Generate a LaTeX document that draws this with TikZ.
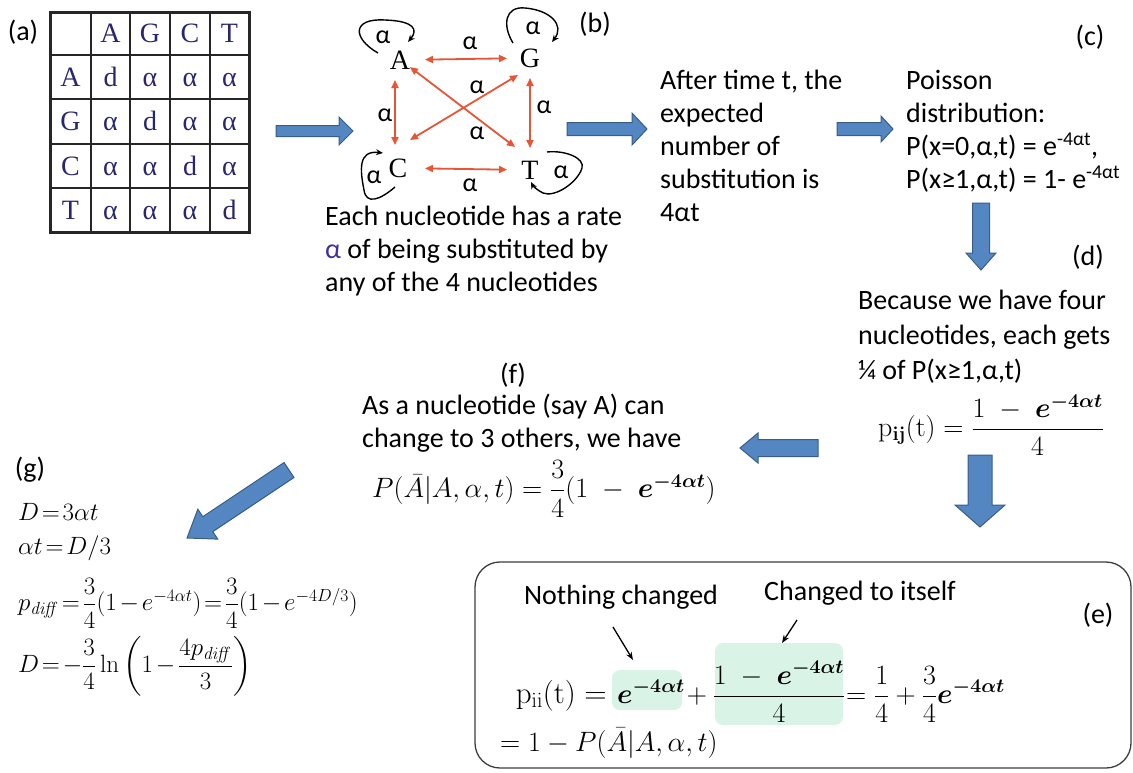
\RequirePackage{fix-cm}
\documentclass[tikz,border=0pt]{standalone}
\usepackage{amsmath}
\usepackage{bm}
\usepackage[no-math]{fontspec}
\setmainfont{Carlito}
\newfontfamily\timesfont{Liberation Serif}
\usetikzlibrary{arrows.meta,calc}
\definecolor{redarr}{RGB}{232,84,52}
\definecolor{bluefill}{RGB}{84,134,194}
\definecolor{blueline}{RGB}{56,93,138}
\definecolor{navy}{RGB}{40,38,110}
\definecolor{mint}{RGB}{218,243,231}
\definecolor{alphablue}{RGB}{60,50,160}
\definecolor{boxgray}{RGB}{60,60,60}
\newcommand{\tightm}{\thickmuskip=2mu\relax\medmuskip=2mu\relax}
\tikzset{
  txt/.style={font=\fontsize{28}{33}\selectfont, inner sep=0pt, align=left, anchor=north west},
  lbl/.style={font=\fontsize{28}{33}\selectfont, inner sep=0pt},
  mth/.style={font=\fontsize{28}{33}\selectfont, inner sep=0pt},
  gmth/.style={font=\fontsize{25}{28}\selectfont, inner sep=0pt, anchor=west},
  tbl/.style={font=\timesfont\fontsize{28}{30}\selectfont, text=navy, inner sep=0pt, anchor=base},
  nuc/.style={font=\timesfont\fontsize{28}{30}\selectfont, inner sep=1pt},
  gal/.style={font=\fontsize{26}{28}\selectfont, inner sep=0pt},
  rarr/.style={draw=redarr, line width=1.8pt, {Triangle[length=8pt,width=7pt]}-{Triangle[length=8pt,width=7pt]}},
  selfloop/.style={draw=black, line width=1.4pt, -{Stealth[length=7pt,width=6pt]}},
  bluearrow/.style={fill=bluefill, draw=blueline, line width=1pt},
  tblthin/.style={line width=1.5pt, draw=black!85},
  tblthick/.style={line width=3pt, draw=black!85},
  thinarr/.style={draw=black, line width=1.3pt, -{Stealth[length=8pt,width=6pt]}},
  hilite/.style={fill=mint, rounded corners=8pt},
}
\newcommand{\blockarr}[5]{%
  \coordinate (bb) at ($(#2)!#5!(#1)$);
  \filldraw[bluearrow] ($(#1)!#3!90:(#2)$) -- ($(bb)!#3!-90:(#1)$) -- ($(bb)!#4!-90:(#1)$) -- (#2) -- ($(bb)!#4!90:(#1)$) -- ($(bb)!#3!90:(#1)$) -- ($(#1)!#3!-90:(#2)$) -- cycle;}
\begin{document}
\begin{tikzpicture}[x=1pt,y=-1pt]
\useasboundingbox (0,0) rectangle (1133,772);
% ---------- (a) table
\node[lbl] (la) at (23,32) {(a)};
\foreach \x in {91,130,170,210} \draw[tblthin] (\x,12) -- (\x,232);
\foreach \y in {55,99,144,188} \draw[tblthin] (50,\y) -- (249,\y);
\draw[tblthick] (50,12) rectangle (249,232);
\foreach \cx/\l [count=\i] in {110.5/A,150/G,190/C,229.5/T}
  \node[tbl] (hc\i) at (\cx,42.5) {\l};
\foreach \cy/\l [count=\i] in {86/A,130.5/G,175/C,219/T}
  \node[tbl] (hr\i) at (70.5,\cy) {\l};
\foreach \cy [count=\r] in {86,130.5,175,219}
  \foreach \cx [count=\c] in {110.5,150,190,229.5}
    \node[tbl] (m\r\c) at (\cx,\cy) {\ifnum\r=\c d\else α\fi};
% ---------- block arrows
\coordinate (a1t) at (276,131); \coordinate (a1p) at (353,131);
\coordinate (a2t) at (567,129); \coordinate (a2p) at (647,129);
\coordinate (a3t) at (837,129); \coordinate (a3p) at (893,129);
\coordinate (a4t) at (981,203); \coordinate (a4p) at (981,270);
\coordinate (a5t) at (980,455); \coordinate (a5p) at (980,527);
\coordinate (a6t) at (818,448); \coordinate (a6p) at (740,448);
\coordinate (a7t) at (289,470); \coordinate (a7p) at (187,538);
\blockarr{a1t}{a1p}{5.5pt}{14pt}{14pt}
\blockarr{a2t}{a2p}{6.5pt}{16pt}{15pt}
\blockarr{a3t}{a3p}{6.5pt}{13pt}{12pt}
\blockarr{a4t}{a4p}{8.5pt}{15pt}{17pt}
\blockarr{a5t}{a5p}{12pt}{25pt}{22pt}
\blockarr{a6t}{a6p}{8.5pt}{15pt}{18pt}
\blockarr{a7t}{a7p}{9pt}{18pt}{25pt}
% ---------- (b) graph
\node[lbl] (lb) at (595,24) {(b)};
\node[nuc] (A) at (400,60) {A};
\node[nuc] (G) at (530,58) {G};
\node[nuc] (C) at (398,168) {C};
\node[nuc] (T) at (530,170) {T};
\draw[rarr, shorten <=25pt, shorten >=23pt] (A.center) -- (G.center);
\draw[rarr, shorten <=27pt, shorten >=23pt] (C.center) -- (T.center);
\draw[rarr, shorten <=20pt, shorten >=23pt] ([xshift=-5pt]A.center) -- ([xshift=-3pt]C.center);
\draw[rarr, shorten <=20pt, shorten >=22pt] (G.center) -- (T.center);
\draw[rarr] ([shift={(10,7)}]A.center) -- ([shift={(-15,-23)}]T.center);
\draw[rarr] ([shift={(12,-28)}]C.center) -- ([shift={(-12,17)}]G.center);
\node[gal] (al1) at (470,43) {α};
\node[gal] (al2) at (385,115) {α};
\node[gal] (al3) at (544,107) {α};
\node[gal] (al4) at (477,87) {α};
\node[gal] (al5) at (477,133) {α};
\node[gal] (al6) at (470,185) {α};
\node[gal] (la1) at (383,37) {α};
\node[gal] (la2) at (533,28) {α};
\node[gal] (la3) at (374,177) {α};
\node[gal] (la4) at (561,172) {α};
\draw[selfloop] (378,53) .. controls (352,38) and (352,18) .. (385,20) .. controls (415,21) and (418,30) .. (408,42);
\draw[selfloop] (513,43) .. controls (502,25) and (505,6) .. (525,8) .. controls (550,10) and (565,25) .. (552,42);
\draw[selfloop] (395,187) .. controls (380,200) and (366,205) .. (364,190) .. controls (360,170) and (358,150) .. (383,153);
\draw[selfloop] (547,152) .. controls (565,150) and (585,158) .. (582,168) .. controls (578,182) and (555,198) .. (543,193) .. controls (537,190) and (533,186) .. (531,182);
\node[txt] (capb) at (325,206) {Each nucleotide has a rate\\{\color{alphablue}α} of being substituted by\\any of the 4 nucleotides};
% ---------- expected number
\node[txt] (tex) at (660,70) {After time t, the\\expected\\number of\\substitution is\\4αt};
% ---------- (c)
\node[lbl] (lc) at (1090,37) {(c)};
\node[txt] (tpo) at (906,70) {Poisson\\distribution:\\P(x=0,α,t) = e\textsuperscript{-4αt},\\P(x≥1,α,t) = 1- e\textsuperscript{-4αt}};
% ---------- (d)
\node[lbl] (ld) at (1088,257) {(d)};
\node[txt, font=\fontsize{28}{35}\selectfont] (tfour) at (858,290) {Because we have four\\nucleotides, each gets\\¼ of P(x≥1,α,t)};
\node[mth, anchor=west] (pij) at (878,425) {$\mathrm{p}_{\mathbf{ij}}(\mathrm{t}) = \dfrac{1\;-\;\bm{e}^{\bm{-4\alpha t}}}{4}$};
% ---------- (f)
\node[lbl] (lf) at (513,375) {(f)};
\node[txt] (tf) at (362,394) {As a nucleotide (say A) can\\change to 3 others, we have};
\node[mth, anchor=west] (pf) at (372,489) {$P(\bar{A}|A,\alpha,t) = \dfrac{3}{4}(1\;-\;\bm{e}^{\bm{-4\alpha t}})$};
% ---------- (g)
\node[lbl] (lg) at (30,470) {(g)};
\node[gmth] (g1) at (18,512) {$\tightm D=3\alpha t$};
\node[gmth] (g2) at (18,548) {$\tightm \alpha t=D/3$};
\node[gmth] (g3) at (18,603) {$\tightm p_{\mathit{diff}}=\dfrac{3}{4}(1-e^{-4\alpha t})=\dfrac{3}{4}(1-e^{-4D/3})$};
\node[gmth] (g4) at (18,666) {$\tightm D=-\dfrac{3}{4}\ln\left(1-\dfrac{4p_{\mathit{diff}}}{3}\right)$};
% ---------- (e)
\draw[rounded corners=25pt, line width=1.3pt, draw=boxgray] (475,562) rectangle (1131,768);
\node[lbl] (le) at (1098,615) {(e)};
\fill[hilite] (612,670) rectangle (682,710);
\fill[hilite] (715,643) rectangle (843,725);
\node[lbl] (nch) at (621,597) {Nothing changed};
\node[lbl] (cts) at (860,593) {Changed to itself};
\node[mth, anchor=base east, font=\fontsize{31}{33}\selectfont] (pii) at (607,703) {$\mathrm{p}_{\mathrm{ii}}(\mathrm{t}) =$};
\node[mth, anchor=base west] (e1) at (617,703) {$\bm{e}^{\bm{-4\alpha t}}$};
\node[mth, anchor=base] (pl1) at (697,703) {$+$};
\node[mth, anchor=base] (fr1) at (779,703) {$\dfrac{1\;-\;\bm{e}^{\bm{-4\alpha t}}}{4}$};
\node[mth, anchor=base west] (eq2) at (846,703) {$=\dfrac{1}{4}+\dfrac{3}{4}\bm{e}^{\bm{-4\alpha t}}$};
\node[mth, anchor=base west] (pii2) at (500,751) {$=1-P(\bar{A}|A,\alpha,t)$};
\draw[thinarr] ([shift={(-8,30)}]nch.center) -- ([shift={(16,-43)}]e1.base west);
\draw[thinarr] ([shift={(-63,27)}]cts.center) -- ([shift={(3,-60)}]fr1.base);
\end{tikzpicture}
\end{document}
